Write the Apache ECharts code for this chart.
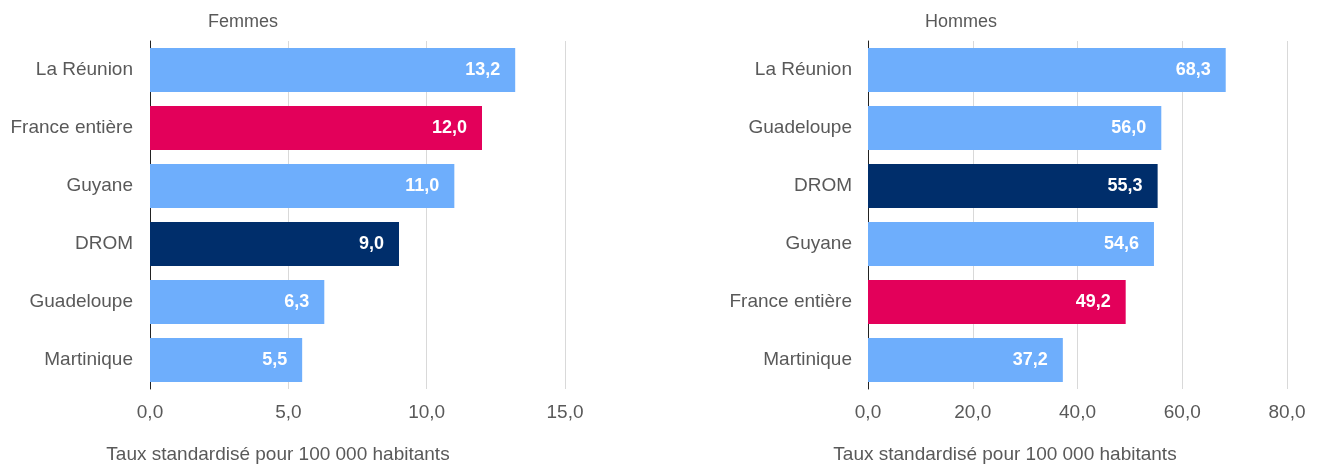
<!DOCTYPE html>
<html><head><meta charset="utf-8">
<script src="https://cdn.jsdelivr.net/npm/echarts@6/dist/echarts.min.js"></script>
<style>html,body{margin:0;padding:0;background:#fff}#c{width:1319px;height:464px}</style>
</head><body><div id="c"></div>
<script>
const femmesCats = ["La Réunion","France entière","Guyane","DROM","Guadeloupe","Martinique"];
const femmesVals = [13.2,12.0,11.0,9.0,6.3,5.5];
const hommesCats = ["La Réunion","Guadeloupe","DROM","Guyane","France entière","Martinique"];
const hommesVals = [68.3,56.0,55.3,54.6,49.2,37.2];
const colorFor = {"France entière":"#e3005a","DROM":"#002e6b"};
const baseColor = "#6eaefc";
const font = "Liberation Sans, Arial, sans-serif";
const textCol = "#595959";

function data(cats, vals){ return vals.map((v,i)=>({value:v,itemStyle:{color:colorFor[cats[i]]||baseColor}})); }
const fmt = v => v.toFixed(1).replace('.',',');

const chart = echarts.init(document.getElementById('c'));
chart.setOption({
  animation:false,
  textStyle:{fontFamily:font},
  title:[
    {text:"Femmes",left:238,top:8,textAlign:'center',textStyle:{fontFamily:font,fontSize:18,fontWeight:'normal',color:textCol}},
    {text:"Hommes",left:956,top:8,textAlign:'center',textStyle:{fontFamily:font,fontSize:18,fontWeight:'normal',color:textCol}},
    {text:"Taux standardisé pour 100 000 habitants",left:273,top:440,textAlign:'center',textStyle:{fontFamily:font,fontSize:19,fontWeight:'normal',color:textCol}},
    {text:"Taux standardisé pour 100 000 habitants",left:1000,top:440,textAlign:'center',textStyle:{fontFamily:font,fontSize:19,fontWeight:'normal',color:textCol}}
  ],
  grid:[
    {left:150,width:415,top:41,height:348},
    {left:868,width:419,top:41,height:348}
  ],
  xAxis:[
    {gridIndex:0,type:'value',min:0,max:15,interval:5,axisLine:{show:false},axisTick:{show:false},
     splitLine:{lineStyle:{color:'#d9d9d9'}},axisLabel:{formatter:fmt,fontSize:19,color:textCol,margin:14,fontFamily:font}},
    {gridIndex:1,type:'value',min:0,max:80,interval:20,axisLine:{show:false},axisTick:{show:false},
     splitLine:{lineStyle:{color:'#d9d9d9'}},axisLabel:{formatter:fmt,fontSize:19,color:textCol,margin:14,fontFamily:font}}
  ],
  yAxis:[
    {gridIndex:0,type:'category',data:femmesCats,inverse:true,axisTick:{show:false},
     axisLine:{lineStyle:{color:'#222',width:1}},axisLabel:{fontSize:19,color:textCol,margin:17,fontFamily:font}},
    {gridIndex:1,type:'category',data:hommesCats,inverse:true,axisTick:{show:false},
     axisLine:{lineStyle:{color:'#222',width:1}},axisLabel:{fontSize:19,color:textCol,margin:16,fontFamily:font}}
  ],
  series:[
    {type:'bar',xAxisIndex:0,yAxisIndex:0,data:data(femmesCats,femmesVals),barWidth:44,
     label:{show:true,position:'insideRight',offset:[-10,0],formatter:p=>fmt(p.value),color:'#fff',fontWeight:'bold',fontSize:18,fontFamily:font}},
    {type:'bar',xAxisIndex:1,yAxisIndex:1,data:data(hommesCats,hommesVals),barWidth:44,
     label:{show:true,position:'insideRight',offset:[-10,0],formatter:p=>fmt(p.value),color:'#fff',fontWeight:'bold',fontSize:18,fontFamily:font}}
  ]
});
</script></body></html>
